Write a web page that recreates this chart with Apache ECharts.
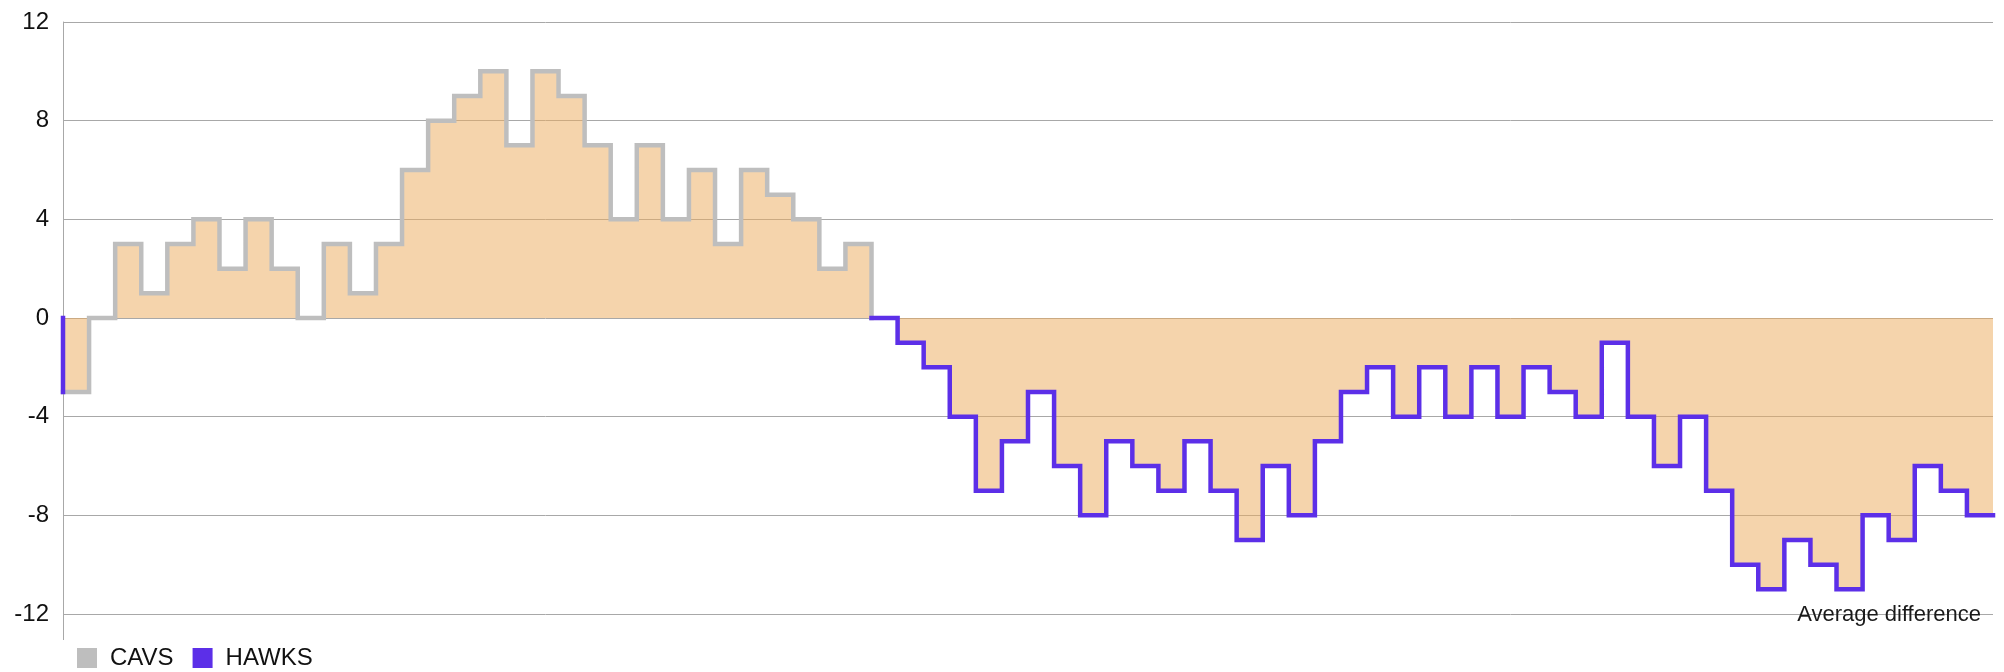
<!DOCTYPE html>
<html>
<head>
<meta charset="utf-8">
<script src="https://cdn.jsdelivr.net/npm/echarts@6/dist/echarts.min.js"></script>
<style>
html,body{margin:0;padding:0;background:#fff;}
#chart{width:2004px;height:672px;}
</style>
</head>
<body>
<div id="chart"></div>
<script>
// Score difference (CAVS minus HAWKS) per step of the game
const diff = [-3,0,3,1,3,4,2,4,2,0,3,1,3,6,8,9,10,7,10,9,7,4,7,4,6,3,6,5,4,2,3,
  0,-1,-2,-4,-7,-5,-3,
  -6,-8,-5,-6,-7,-5,-7,-9,-6,-8,-5,-3,-2,-4,-2,-4,-2,-4,-2,-3,-4,-1,-4,-6,-4,-7,-10,-11,-9,-10,-11,-8,-9,-6,-7,-8];
const startDiff = 0;          // game starts tied
const cavsEnd = 31;           // index where HAWKS section starts
const seriesNames = ['CAVS', 'HAWKS'];
const yTicks = [-12, -8, -4, 0, 4, 8, 12];
const axisTitle = 'Average difference';

const GRAY = '#BEBEBE', PURPLE = '#5C2FE8';
const FILL = 'rgba(236,172,96,0.52)';
const FONT = '"Liberation Sans", Arial, sans-serif';

const cavsData = [];
for (let i = 0; i <= cavsEnd; i++) cavsData.push([i, diff[i]]);
const hawksData = [];
for (let i = cavsEnd; i < diff.length; i++) hawksData.push([i, diff[i]]);
hawksData.push([diff.length, diff[diff.length - 1]]);
const hawksStart = [[0, startDiff], [0, diff[0]]];

const lineBase = (name, color, data, area) => ({
  name, type: 'line', step: 'end', data, showSymbol: false, symbol: 'none',
  color, clip: true,
  lineStyle: { color, width: 4.5, join: 'miter', cap: 'square' },
  areaStyle: area ? { color: FILL, origin: 0, opacity: 1 } : undefined,
  emphasis: { disabled: true }
});

const chart = echarts.init(document.getElementById('chart'), null, { renderer: 'canvas' });
const gridLeft = 63, gridRight = 11, gridTop = 22, gridBottom = 58;
chart.setOption({
  animation: false,
  backgroundColor: '#fff',
  textStyle: { fontFamily: FONT },
  title: {
    text: axisTitle, right: 23, top: 604, padding: 0,
    textStyle: { fontSize: 22, fontWeight: 'normal', color: '#1a1a1a', fontFamily: FONT }
  },
  legend: {
    data: seriesNames, left: 77, top: 646, padding: 0, itemGap: 19,
    icon: 'rect', itemWidth: 20, itemHeight: 20,
    textStyle: { fontSize: 24, color: '#111', fontFamily: FONT, padding: [0, 0, 0, 8] }
  },
  grid: { left: gridLeft, right: gridRight, top: gridTop, bottom: gridBottom },
  xAxis: {
    type: 'value', min: 0, max: diff.length, show: false
  },
  yAxis: {
    type: 'value', min: yTicks[0], max: yTicks[yTicks.length - 1], interval: 4,
    axisLine: { show: true, lineStyle: { color: '#A8A8A8', width: 1 } },
    axisTick: { show: false },
    axisLabel: { fontSize: 24, color: '#111', margin: 14, fontFamily: FONT },
    splitLine: { show: true, lineStyle: { color: '#A8A8A8', width: 1 } }
  },
  series: [
    lineBase('CAVS', GRAY, cavsData, true),
    lineBase('HAWKS', PURPLE, hawksData, true),
    lineBase('HAWKS', PURPLE, hawksStart, false)
  ],
  graphic: [{
    type: 'line', silent: true,
    shape: { x1: gridLeft + 0.5, y1: 672 - gridBottom, x2: gridLeft + 0.5, y2: 640 },
    style: { stroke: '#A8A8A8', lineWidth: 1 }
  }]
});
</script>
</body>
</html>
